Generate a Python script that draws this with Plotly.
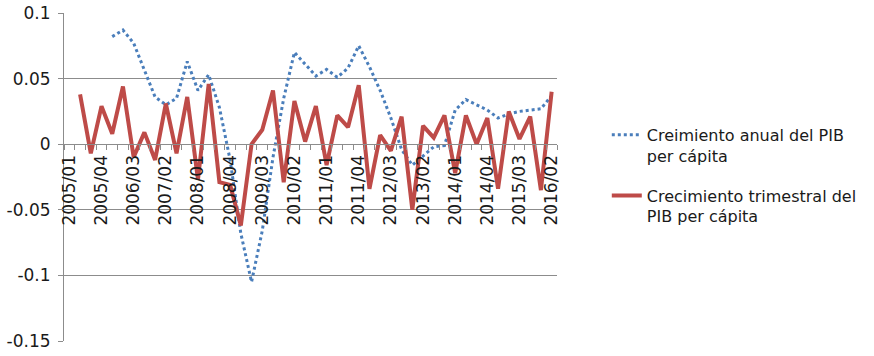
import plotly.graph_objects as go

quarters = [f"{y}/{q:02d}" for y in range(2005, 2017) for q in range(1, 5)][:46]

anual = [None, None, None, None,
         0.082, 0.087, 0.077, 0.057, 0.036, 0.030, 0.035, 0.063, 0.041, 0.053,
         0.028, -0.012, -0.068, -0.105, -0.066, -0.010, 0.035, 0.070, 0.061, 0.052,
         0.057, 0.051, 0.058, 0.075, 0.059, 0.041, 0.020, -0.004, -0.016, -0.009,
         -0.002, -0.001, 0.026, 0.034, 0.030, 0.026, 0.020, 0.023, 0.025, 0.026,
         0.027, 0.037]

trimestral = [None,
              0.038, -0.007, 0.029, 0.008, 0.044, -0.010, 0.009, -0.012, 0.031, -0.007,
              0.036, -0.027, 0.046, -0.029, -0.031, -0.062, 0.000, 0.011, 0.041, -0.029,
              0.033, 0.002, 0.029, -0.016, 0.022, 0.013, 0.045, -0.034, 0.007, -0.005,
              0.021, -0.050, 0.014, 0.005, 0.022, -0.022, 0.022, 0.000, 0.020, -0.034,
              0.025, 0.004, 0.021, -0.035, 0.040]

y_ticks = [0.1, 0.05, 0, -0.05, -0.1, -0.15]
y_tick_text = ["0.1", "0.05", "0", "-0.05", "-0.1", "-0.15"]

name_anual = "Creimiento anual del PIB<br>per cápita"
name_trim = "Crecimiento trimestral del<br>PIB per cápita"

idx = list(range(len(quarters)))
GRID = "#8c8c8c"
FONT = "DejaVu Sans"

fig = go.Figure()
fig.add_trace(go.Scatter(x=idx, y=anual, mode="lines", name=name_anual,
                         legendgroup="a",
                         line=dict(color="#4a7ebb", width=3, dash="dot")))
fig.add_trace(go.Scatter(x=idx, y=trimestral, mode="lines", name=name_trim,
                         legendgroup="b",
                         line=dict(color="#be4b48", width=4)))

L, R, T, B = 64, 317, 13, 15
zero_pos = (0 - (-0.15)) / (0.1 - (-0.15))

fig.update_layout(
    width=874, height=356,
    margin=dict(l=L, r=R, t=T, b=B, autoexpand=False),
    paper_bgcolor="white", plot_bgcolor="white",
    font=dict(family=FONT, color="#1a1a1a"),
    showlegend=True,
    legend=dict(x=1.101, y=0.68, xanchor="left", yanchor="top",
                font=dict(size=16, family=FONT), valign="top",
                tracegroupgap=16, bgcolor="rgba(0,0,0,0)"),
    xaxis=dict(
        range=[-0.5, len(quarters) - 0.5],
        anchor="free", position=zero_pos, automargin=False,
        tickmode="array", tickvals=idx[::3], ticktext=quarters[::3],
        tickangle=-90, tickfont=dict(size=17, family=FONT),
        ticks="", showgrid=False, zeroline=False,
        showline=True, linecolor=GRID, linewidth=1,
        minor=dict(ticks="outside", ticklen=5, tickcolor=GRID,
                   tickmode="linear", tick0=-0.5, dtick=1, showgrid=False),
        ticklabelstandoff=3,
    ),
    yaxis=dict(
        range=[-0.15, 0.1], automargin=False,
        tickmode="array", tickvals=y_ticks, ticktext=y_tick_text,
        tickfont=dict(size=17, family=FONT),
        showgrid=True, gridcolor=GRID, gridwidth=1,
        zeroline=False, showline=True, linecolor=GRID, linewidth=1,
        ticks="outside", ticklen=5, tickcolor=GRID, ticklabelstandoff=4,
    ),
)

fig.write_html(
    "out.html",
    config={"displayModeBar": False},
    post_script="document.body.style.margin='0';document.body.style.overflow='hidden';",
)
